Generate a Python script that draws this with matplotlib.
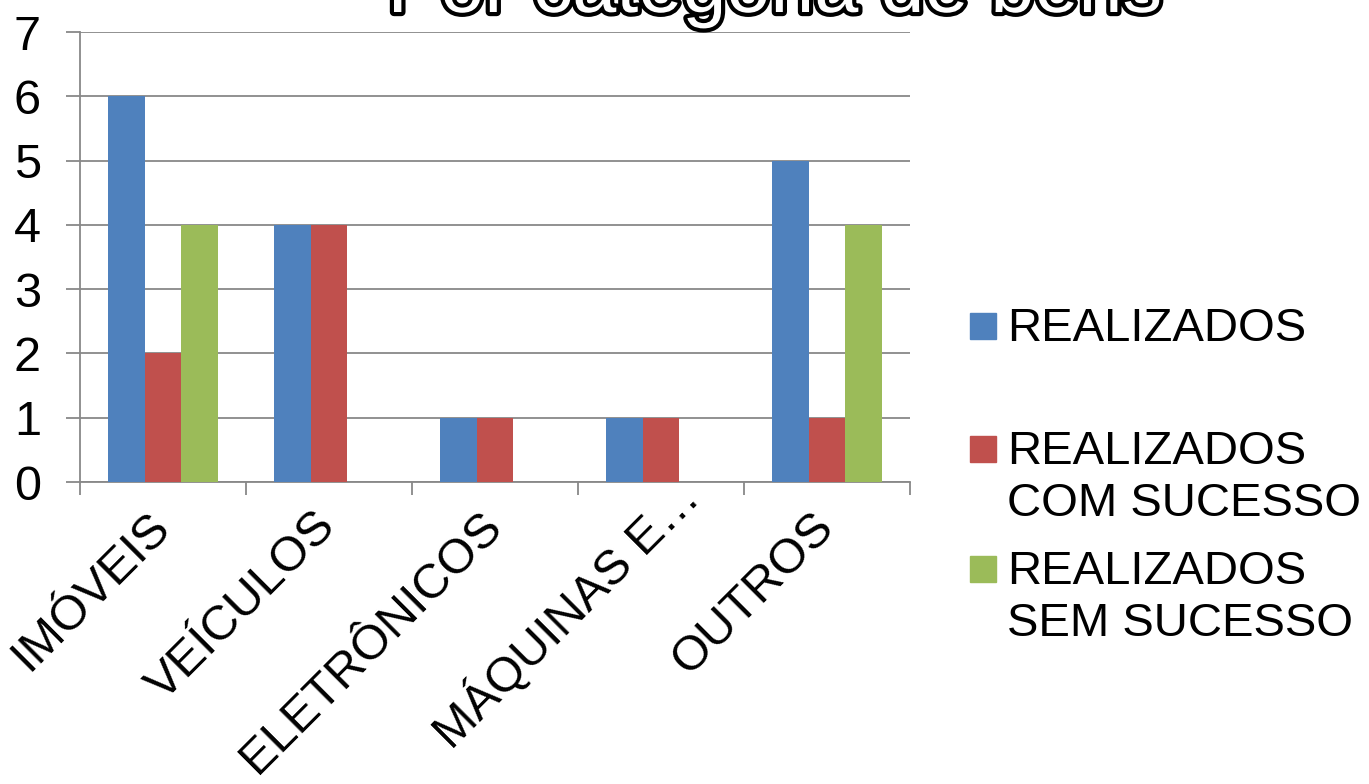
import matplotlib.pyplot as plt
import matplotlib.patheffects as pe
import matplotlib.transforms as mtrans
from matplotlib.patches import Rectangle
import numpy as np

plt.rcParams['font.family'] = ['Liberation Sans', 'DejaVu Sans']

categorias = ["IMÓVEIS", "VEÍCULOS", "ELETRÔNICOS", "MÁQUINAS E…", "OUTROS"]
series = ["REALIZADOS", "REALIZADOS\nCOM SUCESSO", "REALIZADOS\nSEM SUCESSO"]
realizados = [6, 4, 1, 1, 5]
com_sucesso = [2, 4, 1, 1, 1]
sem_sucesso = [4, 0, 0, 0, 4]
cores = ["#4F81BD", "#C0504D", "#9BBB59"]
titulo = "Por categoria de bens"

fig = plt.figure(figsize=(13.69, 7.84), dpi=100)
ax = fig.add_axes([80 / 1369, 1 - 482 / 784, 830 / 1369, 450 / 784])

x = np.arange(len(categorias))
w = 0.22
for i, vals in enumerate([realizados, com_sucesso, sem_sucesso]):
    ax.bar(x + (i - 1) * w, vals, w, color=cores[i], zorder=3)

ax.set_xlim(-0.5, len(categorias) - 0.5)
ax.set_ylim(0, 7)
ax.set_yticks(range(8))
ax.yaxis.grid(True, color="#888888", linewidth=1.3, zorder=0)
for s in ["top", "right"]:
    ax.spines[s].set_visible(False)
for s in ["left", "bottom"]:
    ax.spines[s].set_color("#888888")
    ax.spines[s].set_linewidth(1.3)

ax.set_xticks(np.arange(-0.5, len(categorias)), [])
ax.set_xticks(x, categorias, minor=True)
ax.tick_params(axis="x", which="major", length=9, width=1.3, color="#888888")
ax.tick_params(axis="x", which="minor", length=0, pad=27, labelsize=35)
ax.tick_params(axis="y", length=10, width=1.3, color="#888888", labelsize=35, pad=18)
for lbl in ax.get_xticklabels(minor=True):
    lbl.set_rotation(45)
    lbl.set_ha("right")
    lbl.set_va("center")
    lbl.set_rotation_mode("anchor")
# o rotulo truncado fica mais para cima/direita na original
lbl = ax.get_xticklabels(minor=True)[3]
lbl.set_transform(lbl.get_transform() +
                  mtrans.ScaledTranslation(0.30, 0.30, fig.dpi_scale_trans))

# legenda
ys = [327, 450, 570]
for nome, cor, y in zip(series, cores, ys):
    fig.patches.append(Rectangle((970 / 1369, 1 - (y + 12) / 784), 26 / 1369, 26 / 784,
                                 transform=fig.transFigure, color=cor))
    fig.text(1007 / 1369, 1 - (y - 20) / 784, nome, fontsize=34, va="top",
             ha="left", linespacing=1.25)

t = fig.text(775 / 1369, 1 - 12 / 784, titulo, fontsize=57, ha="center",
             va="baseline", color="white")
t.set_path_effects([pe.withSimplePatchShadow(offset=(2, -2), shadow_rgbFace="#555555"),
                    pe.withStroke(linewidth=6, foreground="black")])

fig.savefig("out.png", dpi=100)
